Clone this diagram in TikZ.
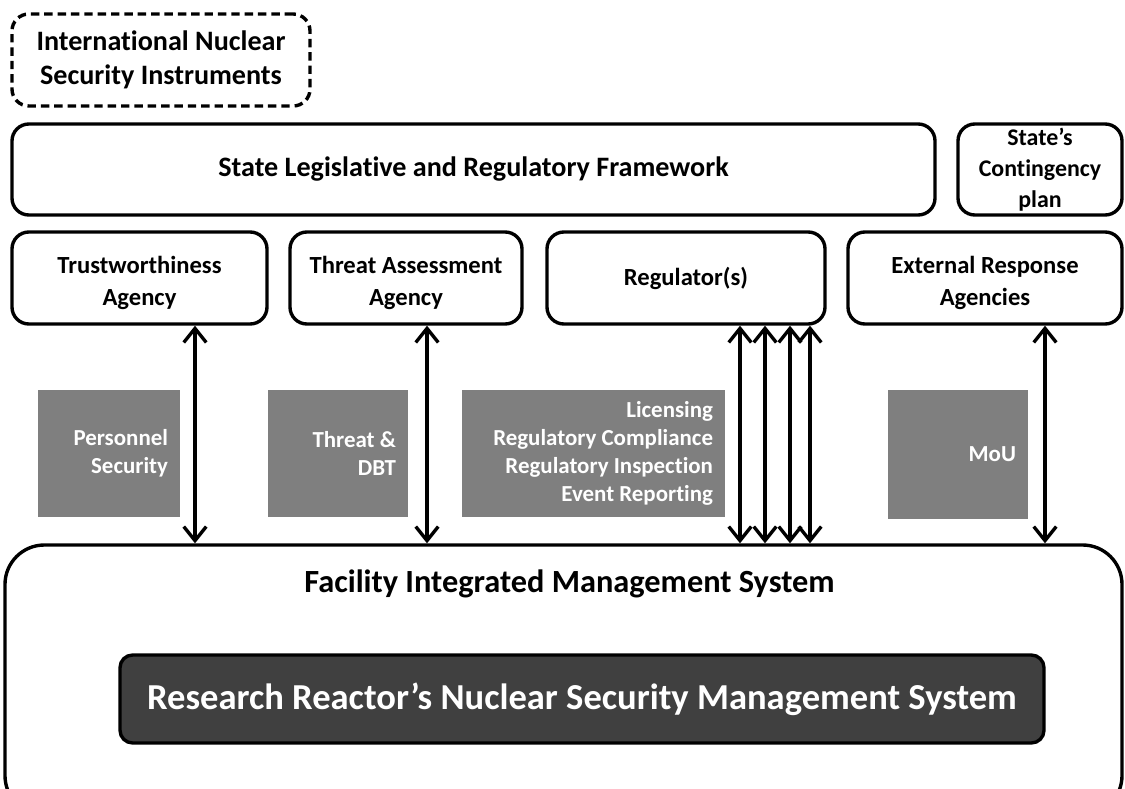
\documentclass[tikz,border=0pt]{standalone}
\usepackage{fontspec}
\setmainfont{Carlito}[Ligatures=NoCommon]
\usepackage{tikz}
\usetikzlibrary{
  positioning,
  arrows.meta
}
\definecolor{boxgrey}{HTML}{7F7F7F}
\definecolor{darkbox}{HTML}{404040}

\tikzset{
  frame/.style={draw,line width=2.4pt,rounded corners=12pt,align=center,inner sep=2pt},
  agency/.style={frame,minimum height=92*0.025cm,font=\bfseries\fontsize{17.5}{22.5}\selectfont},
  twolines/.style={text height=43pt,text depth=4pt},
  info/.style={fill=boxgrey,text=white,align=flush right,inner xsep=12*0.025cm,inner ysep=0pt,text width=#1,font=\bfseries\fontsize{16.3}{20}\selectfont},
  link/.style={line width=2.4pt,{Straight Barb[length=10pt,width=16pt,line width=2.4pt]}-{Straight Barb[length=10pt,width=16pt,line width=2.4pt]}}
}

\begin{document}
\begin{tikzpicture}[x=0.025cm,y=-0.025cm,font=\bfseries]
            \useasboundingbox (0,0) rectangle (1125,789);
            % state level boxes
            \node[frame,dash pattern=on 6pt off 3.5pt,minimum width=298*0.025cm,minimum height=92*0.025cm,font=\bfseries\fontsize{20}{24}\selectfont] (intl) at (161,60) {International Nuclear\\Security Instruments};
            \node[frame,minimum width=923*0.025cm,minimum height=91*0.025cm,font=\bfseries\fontsize{20}{24}\selectfont] (legis) at (473.5,169.5) {State Legislative and Regulatory Framework};
            \node[frame,minimum width=164*0.025cm,minimum height=91*0.025cm,font=\bfseries\fontsize{17}{22}\selectfont] (contin) at (1040,169.5) {State’s\\Contingency\\plan};
            % agencies
            \node[agency,twolines,minimum width=255*0.025cm] (trust) at (139.5,278) {Trustworthiness\\Agency};
            \node[agency,twolines,minimum width=232*0.025cm] (threat) at (406,278) {Threat Assessment\\Agency};
            \node[agency,minimum width=278*0.025cm] (reg) at (686,278) {Regulator(s)};
            \node[agency,twolines,minimum width=274*0.025cm] (ext) at (985,278) {External Response\\Agencies};
            % interfaces
            \node[info=118*0.025cm,minimum height=127*0.025cm] (pers) at (109,453.5) {Personnel\\Security};
            \node[info=116*0.025cm,minimum height=127*0.025cm] (dbt) at (338,453.5) {Threat \&\\DBT};
            \node[info=239*0.025cm,minimum height=127*0.025cm] (lic) at (593.5,453.5) {Licensing\\Regulatory Compliance\\Regulatory Inspection\\Event Reporting};
            \node[info=116*0.025cm,minimum height=129*0.025cm] (mou) at (958,454.5) {MoU};
            % facility
            \node[draw,line width=2.4pt,rounded corners=28pt,minimum width=1117*0.025cm,minimum height=270*0.025cm] (fims) at (563.5,680) {};
            \node[below=22*0.025cm of fims.north,xshift=6*0.025cm,font=\bfseries\fontsize{23}{27}\selectfont] (fimstitle) {Facility Integrated Management System};
            \node[draw,line width=2.4pt,fill=darkbox,text=white,rounded corners=9pt,minimum width=924*0.025cm,minimum height=88*0.025cm,font=\bfseries\fontsize{26}{30}\selectfont] (rrnsms) at (582,699) {Research Reactor’s Nuclear Security Management System};
            % two way links
            \draw[link] (trust.south -| 195,0) -- (fims.north -| 195,0);
            \draw[link] (threat.south -| 427,0) -- (fims.north -| 427,0);
            \foreach \x in {740,765,790,810}
              \draw[link] (reg.south -| \x,0) -- (fims.north -| \x,0);
            \draw[link] (ext.south -| 1045,0) -- (fims.north -| 1045,0);
\end{tikzpicture}
\end{document}
